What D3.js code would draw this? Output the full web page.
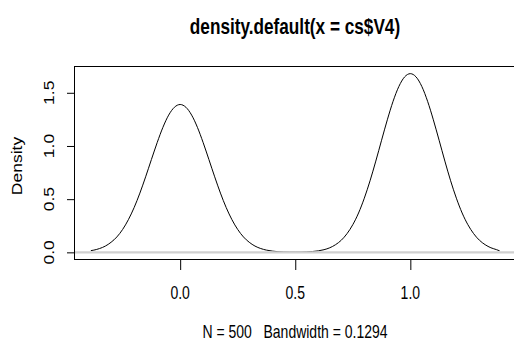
<!DOCTYPE html>
<html>
<head>
<meta charset="utf-8">
<script src="https://cdn.jsdelivr.net/npm/d3@7"></script>
<style>
  body { margin: 0; background: #fff; }
  text { font-family: "Liberation Sans", Arial, sans-serif; fill: #000; white-space: pre; }
</style>
</head>
<body>
<svg id="chart" width="514" height="340"></svg>
<script>
// density estimate (x grid / density)
const gridX = [-0.388, -0.375, -0.35, -0.325, -0.3, -0.275, -0.25, -0.225, -0.2, -0.175, -0.15, -0.125, -0.1, -0.075, -0.05, -0.025,
  0, 0.025, 0.05, 0.075, 0.1, 0.125, 0.15, 0.175, 0.2, 0.225, 0.25, 0.275, 0.3, 0.325, 0.35, 0.375, 0.4, 0.425, 0.45, 0.475,
  0.5, 0.525, 0.55, 0.575, 0.6, 0.625, 0.65, 0.675, 0.7, 0.725, 0.75, 0.775, 0.8, 0.825, 0.85, 0.875, 0.9, 0.925, 0.95, 0.975,
  1, 1.025, 1.05, 1.075, 1.1, 1.125, 1.15, 1.175, 1.2, 1.225, 1.25, 1.275, 1.3, 1.325, 1.35, 1.375, 1.388]
const densityY = [0.016, 0.021, 0.036, 0.059, 0.095, 0.145, 0.215, 0.307, 0.421, 0.557, 0.710, 0.872, 1.031, 1.175, 1.290, 1.364,
  1.390, 1.364, 1.290, 1.175, 1.031, 0.872, 0.710, 0.557, 0.421, 0.307, 0.215, 0.145, 0.095, 0.059, 0.036, 0.021, 0.012, 0.006, 0.003, 0.002,
  0.002, 0.002, 0.004, 0.008, 0.014, 0.025, 0.043, 0.072, 0.114, 0.176, 0.260, 0.370, 0.509, 0.673, 0.858, 1.054, 1.246, 1.420, 1.559, 1.649,
  1.680, 1.649, 1.559, 1.420, 1.246, 1.054, 0.858, 0.673, 0.509, 0.370, 0.260, 0.176, 0.114, 0.072, 0.043, 0.025, 0.014, 0.008, 0.004,
  0.002, 0.001, 0.001, 0.002, 0.004, 0.008, 0.014, 0.019]
const xTicks = [0, 0.5, 1]
const yTicks = [0, 0.5, 1, 1.5]
const mainTitle = 'density.default(x = cs$V4)'
const subTitle = 'N = 500   Bandwidth = 0.1294'
const yTitle = 'Density'

const svg = d3.select('#chart')
const pts = gridX.map((x, i) => ({x: x, y: densityY[i]}))
const sx = 0.8 // picture is squeezed sideways

// R style 4% padding
const xr = d3.extent(gridX)
const xpad = (xr[1] - xr[0]) * 0.04
const ymax = d3.max(pts, d => d.y)
const ypad = ymax * 0.04

const x = d3.scaleLinear().domain([xr[0] - xpad, xr[1] + xpad]).range([74.5, 516])
const y = d3.scaleLinear().domain([-ypad, ymax + ypad]).range([259.5, 66.5])

// zero line goes over the curve like in R
svg.append('path')
  .datum(pts)
  .attr('fill', 'none')
  .attr('stroke', '#000')
  .attr('stroke-width', 1)
  .attr('d', d3.line().x(d => x(d.x)).y(d => y(d.y)).curve(d3.curveMonotoneX))

svg.append('line')
  .attr('x1', x.range()[0]).attr('x2', x.range()[1])
  .attr('y1', y(0)).attr('y2', y(0))
  .attr('stroke', '#d0d0d0').attr('stroke-width', 2.2)

svg.append('rect')
  .attr('x', x.range()[0]).attr('y', y.range()[1])
  .attr('width', x.range()[1] - x.range()[0]).attr('height', y.range()[0] - y.range()[1])
  .attr('fill', 'none').attr('stroke', '#000')

// axes
const xAxis = svg.append('g').attr('transform', 'translate(0,260)')
  .call(d3.axisBottom(x).tickValues(xTicks).tickSize(10).tickFormat(d3.format('.1f')))
xAxis.select('.domain').remove()
xAxis.selectAll('text').remove()

const yAxis = svg.append('g').attr('transform', 'translate(75,0)')
  .call(d3.axisLeft(y).tickValues(yTicks).tickSize(8).tickFormat(d3.format('.1f')))
yAxis.select('.domain').remove()
yAxis.selectAll('text').remove()

function label(tx, ty, str, size, rot, bold) {
  svg.append('text')
    .attr('transform', `translate(${tx},${ty}) scale(${sx},1)` + (rot ? ' rotate(-90)' : ''))
    .attr('text-anchor', 'middle')
    .attr('font-size', size)
    .attr('font-weight', bold ? 'bold' : 'normal')
    .text(str)
}

xTicks.forEach(t => label(x(t), 299, d3.format('.1f')(t), 17.5, false))
yTicks.forEach(t => label(54, y(t), d3.format('.1f')(t), 17.5, true))
label(295, 33.5, mainTitle, 21.5, false, true)
label(295, 338, subTitle, 17.5, false)
label(22, 166, yTitle, 17.5, true)
</script>
</body>
</html>
